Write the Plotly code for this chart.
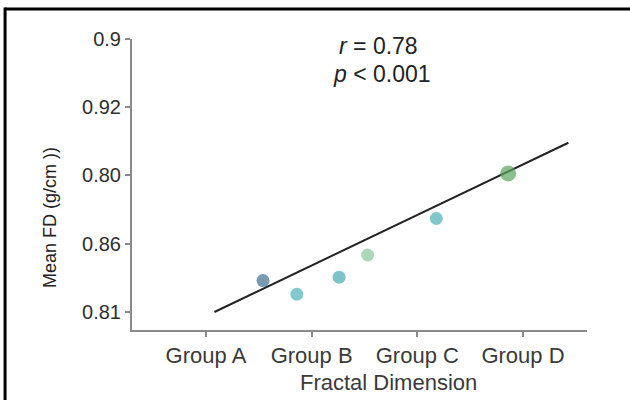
import plotly.graph_objects as go

# Data (y values in tick-index units; tick labels as printed)
group_labels = ["Group A", "Group B", "Group C", "Group D"]
group_pos = [1, 2, 3, 4]
y_tick_pos = [0, 1, 2, 3, 4]
y_tick_labels = ["0.81", "0.86", "0.80", "0.92", "0.9"]

pt_x = [1.54, 1.86, 2.26, 2.53, 3.18, 3.86]
pt_y = [0.46, 0.26, 0.51, 0.835, 1.37, 2.03]
pt_colors = ["#3e6f92", "#4cb2b9", "#47a9b2", "#84c99b", "#4aafb8", "#5aa45c"]
pt_sizes = [13, 13, 13, 13, 13, 16]

fit_x = [1.08, 4.43]
fit_y = [0.0, 2.48]

fig = go.Figure()
fig.add_trace(go.Scatter(x=fit_x, y=fit_y, mode="lines",
                         line=dict(color="#222222", width=2), showlegend=False,
                         hoverinfo="skip"))
fig.add_trace(go.Scatter(x=pt_x, y=pt_y, mode="markers",
                         marker=dict(color=pt_colors, size=pt_sizes, line=dict(width=0)),
                         showlegend=False))

axis_col = "#8a8a8a"
font = "Liberation Sans, Arial, sans-serif"
fig.update_layout(
    width=630, height=400,
    margin=dict(l=132, r=43, t=39, b=70),
    paper_bgcolor="white", plot_bgcolor="white",
    font=dict(family=font, color="#333333"),
    xaxis=dict(range=[0.30, 4.606], tickvals=group_pos, ticktext=group_labels,
               showgrid=False, zeroline=False, showline=True, linecolor=axis_col,
               linewidth=2, ticks="outside", ticklen=5, tickcolor=axis_col, tickwidth=2,
               tickfont=dict(size=22, color="#3a3a3a")),
    yaxis=dict(range=[-0.264, 4.0], tickvals=y_tick_pos, ticktext=y_tick_labels,
               showgrid=False, zeroline=False, showline=True, linecolor=axis_col,
               linewidth=2, ticks="outside", ticklen=5, tickcolor=axis_col, tickwidth=2,
               tickfont=dict(size=20, color="#2e2e2e")),
    shapes=[
        dict(type="line", xref="paper", yref="paper", x0=-0.279, x1=1.12, y0=1.103, y1=1.103,
             line=dict(color="black", width=3)),
        dict(type="line", xref="paper", yref="paper", x0=-0.279, x1=-0.279, y0=1.108, y1=-0.26,
             line=dict(color="black", width=3)),
    ],
    annotations=[
        dict(text="Fractal Dimension", xref="paper", yref="paper", x=0.563, y=-0.182,
             showarrow=False, xanchor="center", yanchor="middle",
             font=dict(size=22, color="#3a3a3a")),
        dict(text="Mean FD (g/cm ))", xref="paper", yref="paper", x=-0.180, y=0.385,
             showarrow=False, xanchor="center", yanchor="middle", textangle=-90,
             font=dict(size=18, color="#222222")),
        dict(text="<i>r</i> = 0.78", xref="paper", yref="paper", x=0.541, y=0.976,
             showarrow=False, xanchor="center", yanchor="middle",
             font=dict(size=23, color="#222222")),
        dict(text="<i>p</i> < 0.001", xref="paper", yref="paper", x=0.549, y=0.880,
             showarrow=False, xanchor="center", yanchor="middle",
             font=dict(size=23, color="#222222")),
    ],
)

fig.write_html("out.html")
